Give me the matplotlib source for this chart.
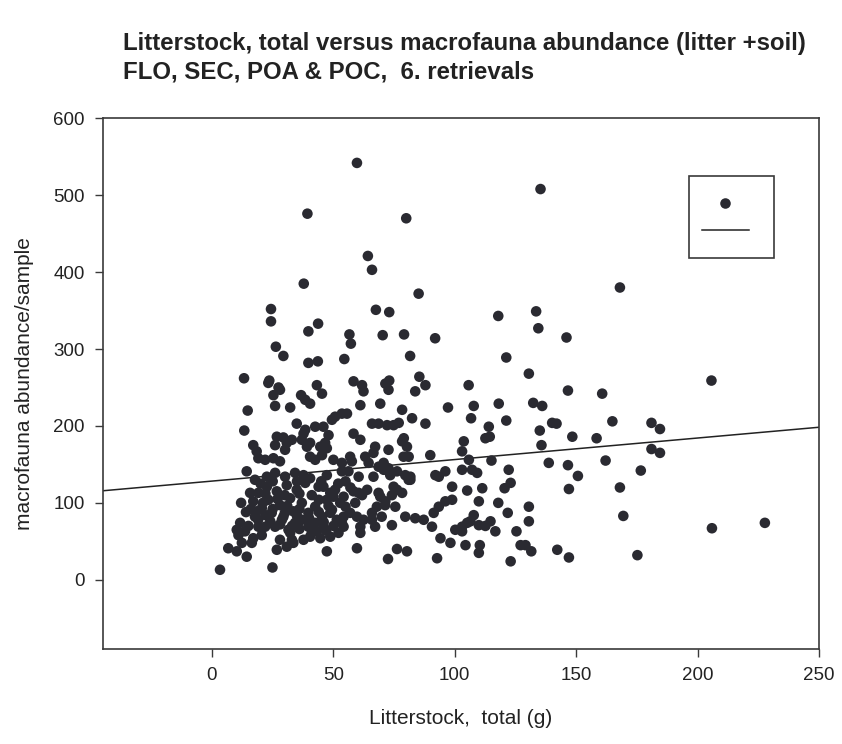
import matplotlib
matplotlib.use("Agg")
import matplotlib.pyplot as plt
from matplotlib.patches import Rectangle
from matplotlib.lines import Line2D

plt.rcParams['font.family'] = ['Liberation Sans', 'DejaVu Sans']

title_lines = ["Litterstock, total versus macrofauna abundance (litter +soil)",
               "FLO, SEC, POA & POC,  6. retrievals"]
x_label = "Litterstock,  total (g)"
y_label = "macrofauna abundance/sample"
x_ticks = [0, 50, 100, 150, 200, 250]
y_ticks = [0, 100, 200, 300, 400, 500, 600]

# litter stock (g) per sample
litter = [
    59.7, 39.3, 80.0, 64.2, 65.9, 37.8, 85.1, 24.3, 24.3, 67.5, 73.0, 39.7, 43.7, 56.6, 57.2,
    70.3, 79.1, 91.9, 26.3, 29.4, 39.7, 43.6, 54.5, 81.6, 13.2, 23.6, 27.4, 43.2, 58.3, 61.8,
    71.4, 73.0, 85.4, 87.9, 105.7,
    135.3, 168.0, 117.9, 133.5, 134.4, 146.0, 121.2, 130.5, 205.7,
    146.6, 160.7, 107.8, 106.7, 118.1, 132.3, 136.0, 121.2, 114.0, 112.6, 114.4, 135.0, 135.7,
    140.1, 141.9, 148.4, 158.4, 164.9, 181.0, 184.5, 181.0, 184.5, 103.7, 103.0, 115.1, 138.7,
    146.6, 150.7, 162.1, 176.6, 122.2, 107.1, 109.2, 103.0, 123.0, 120.5, 111.3, 105.1, 147.0,
    168.0, 109.9, 117.9, 130.5, 130.5, 121.8, 107.8, 114.7, 116.7, 112.6, 109.9, 105.1, 103.0,
    125.4, 169.4, 205.9, 227.7, 104.4, 110.3, 109.9, 127.1, 129.1, 131.5, 123.0, 142.2, 147.0,
    175.2,
    23.2, 28.0, 25.3, 26.0, 32.2, 36.7, 38.4, 40.4, 45.3, 14.7, 53.5, 13.3, 34.9, 38.4, 42.5,
    45.9, 49.4, 48.0, 46.6, 29.4, 32.9, 26.0, 30.1, 37.0, 39.1, 40.4, 42.5, 45.3, 47.3, 17.0,
    18.4, 19.1, 21.9, 25.3, 28.0, 50.0, 53.5, 14.3, 17.7, 22.6, 26.0, 30.1, 34.2, 37.7, 40.4,
    47.3, 53.5,
    62.4, 61.1, 72.7, 69.3, 83.7, 97.2, 55.6, 78.3, 82.4, 87.9, 65.9, 68.6, 72.1, 74.8, 76.9,
    58.3, 61.1, 67.2, 72.7, 79.0, 80.3, 81.0, 63.1, 64.5, 57.6, 89.9, 105.8, 68.6, 72.7, 76.2,
    79.6, 81.7, 92.0, 96.1, 60.4, 56.2,
    26.7, 30.8, 37.7, 40.4, 44.6, 56.9, 66.5, 70.7, 78.9, 78.3, 50.7,
    59.7, 72.5, 76.2, 80.3, 92.7, 94.1, 98.2, 74.1, 79.6, 83.7, 87.2, 91.3, 93.4, 96.1, 98.9,
    98.9, 93.4, 65.9, 67.9, 69.3, 71.4, 74.1, 76.2, 78.3, 74.8, 61.1, 62.4, 59.7, 56.9, 52.1,
    54.2, 51.4, 48.7, 54.2, 58.3, 61.8, 63.9, 45.9, 48.7, 66.5, 70.7, 73.4, 81.7,
    37.7, 40.4, 43.2, 45.9, 48.7, 33.5, 30.8, 26.7, 28.0, 32.2,
    3.3, 24.9, 47.3, 6.7, 10.2, 14.3, 12.3, 16.4, 11.6, 13.6, 10.9, 17.0, 20.5, 21.9, 19.1,
    32.9, 41.1, 44.6, 53.5, 26.0, 28.8, 31.5, 34.2, 37.0, 39.7, 42.5,
    17.0, 19.1, 20.5, 22.6, 23.2, 24.6, 26.7, 28.0, 29.4, 30.8, 32.2, 33.5, 34.9, 37.0, 38.4,
    39.7, 41.1, 42.5, 43.9, 45.3, 47.3, 49.4, 50.7, 52.8, 54.2, 17.7, 15.7, 18.4, 10.2, 12.0,
    14.0,
    60.4, 59.0, 68.6, 65.9, 67.2, 69.9, 71.3, 75.5, 61.1, 90.6, 106.4, 103.0, 100.2, 81.0,
    20.0, 25.0, 35.0, 45.0, 52.0, 22.0, 30.0, 36.0, 44.0, 50.0, 55.0, 21.0, 27.0, 31.0, 36.0,
    44.0, 48.0, 25.0, 30.0, 35.0, 40.0, 46.0, 50.0, 24.0, 28.0, 33.0, 36.0, 41.0, 47.0, 22.0,
    19.0, 16.0, 15.0, 55.0, 57.0,
]

# macrofauna individuals per sample
abundance = [
    542, 476, 470, 421, 403, 385, 372, 352, 336, 351, 348, 323, 333, 319, 307,
    318, 319, 314, 303, 291, 282, 284, 287, 291, 262, 259, 250, 253, 258, 253,
    255, 259, 264, 253, 253,
    508, 380, 343, 349, 327, 315, 289, 268, 259,
    246, 242, 226, 210, 229, 230, 226, 207, 199, 184, 186, 194, 175,
    204, 203, 186, 184, 206, 204, 196, 170, 165, 180, 167, 155, 152,
    149, 135, 155, 142, 143, 143, 139, 143, 126, 119, 119, 116, 118,
    120, 102, 100, 95, 76, 87, 84, 76, 63, 70, 71, 74, 63,
    63, 83, 67, 74, 45, 45, 35, 45, 45, 37, 24, 39, 29,
    32,
    256, 247, 240, 226, 224, 240, 234, 229, 242, 220, 216, 194, 203, 195, 199,
    199, 208, 188, 178, 185, 182, 175, 169, 182, 173, 160, 156, 162, 171, 175,
    167, 158, 156, 158, 154, 156, 152, 141, 130, 134, 139, 134, 139, 136, 132,
    136, 141,
    245, 227, 247, 229, 245, 224, 216, 221, 210, 203, 203, 203, 201, 201, 204,
    190, 182, 173, 169, 184, 173, 160, 160, 152, 154, 162, 156, 147, 145, 141,
    136, 134, 136, 141, 134, 141,
    186, 178, 190, 178, 173, 160, 165, 152, 160, 180, 212,
    41, 27, 40, 37, 28, 54, 48, 71, 82, 80, 78, 87, 95, 102, 104,
    121, 134, 87, 95, 108, 102, 110, 117, 113, 121, 69, 78, 82, 87, 61,
    69, 78, 87, 108, 115, 110, 117, 121, 113, 134, 143, 136, 130,
    52, 56, 63, 69, 56, 48, 43, 39, 52, 61,
    13, 16, 37, 41, 37, 30, 48, 48, 74, 63, 58, 54, 58, 69, 69,
    52, 61, 54, 74, 69, 78, 65, 74, 78, 69, 74,
    102, 113, 93, 121, 104, 87, 115, 97, 82, 123, 106, 89, 117, 100, 126,
    87, 110, 95, 121, 82, 104, 91, 117, 100, 82, 82, 113, 89, 65, 100,
    88,
    113, 100, 113, 78, 69, 82, 97, 95, 61, 69, 76, 69, 65, 130,
    125, 128, 128, 128, 125, 112, 110, 112, 104, 108, 95, 100, 105, 96, 92,
    88, 96, 92, 87, 83, 80, 75, 70, 76, 72, 70, 66, 72, 64, 84,
    78, 92, 70, 128, 120,
]

# linear regression fit drawn across the axis range
fit_intercept = 128.3
fit_slope = 0.28

x_range = (-45, 250)
y_range = (-90, 600)

dot_color = '#2a2a31'
ink = '#3a3a3a'

fig = plt.figure(figsize=(8.42, 7.44), dpi=100)
ax = fig.add_axes([0.1220, 0.1277, 0.8507, 0.7133])

ax.scatter(litter, abundance, s=58, color=dot_color, edgecolors='none', zorder=3)
ax.plot(list(x_range), [fit_intercept + fit_slope * v for v in x_range],
        color='#222222', lw=1.1, zorder=2)

ax.set_xlim(*x_range)
ax.set_ylim(*y_range)
ax.set_xticks(x_ticks)
ax.set_yticks(y_ticks)
ax.tick_params(direction='out', length=6, width=1.0, color=ink,
               labelsize=13.5, labelcolor='#222222', pad=7)
for sp in ax.spines.values():
    sp.set_color(ink)
    sp.set_linewidth(1.2)

ax.set_xlabel(x_label, fontsize=15, color='#222222', labelpad=18)
ax.set_ylabel(y_label, fontsize=15, color='#222222', labelpad=14)

fig.text(0.146, 0.941, title_lines[0], fontsize=17.3, fontweight='bold',
         color='#222222', ha='left', va='center')
fig.text(0.146, 0.903, title_lines[1], fontsize=17.3, fontweight='bold',
         color='#222222', ha='left', va='center')

# key box in the upper right corner
ax.add_patch(Rectangle((0.8185, 0.737), 0.1185, 0.154, transform=ax.transAxes,
                       fill=False, edgecolor=ink, lw=1.2, zorder=4))
ax.add_line(Line2D([0.869], [0.841], transform=ax.transAxes, marker='o',
                   markersize=7.6, color=dot_color, markeredgewidth=0, zorder=5))
ax.add_line(Line2D([0.837, 0.902], [0.7895, 0.7895], transform=ax.transAxes,
                   color='#222222', lw=1.1, zorder=5))

fig.savefig('out.png', dpi=100, facecolor='white')
